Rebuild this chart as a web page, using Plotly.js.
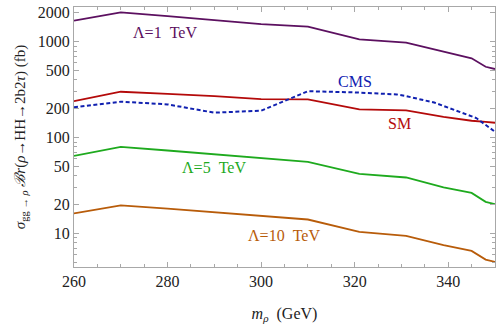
<!DOCTYPE html>
<html>
<head>
<meta charset="utf-8">
<script src="https://cdn.plot.ly/plotly-3.0.1.min.js"></script>
<style>html,body{margin:0;padding:0;background:#fff;}#chart{width:498px;height:327px;}</style>
</head>
<body>
<div id="chart"></div>
<script>
// Data
const massGrid = [260, 270, 280, 290, 300, 310, 321, 331, 339, 345, 348, 350];
const lambda1 = [1656, 2027, 1845, 1690, 1525, 1435, 1059, 977, 787, 671, 548, 519];
const smValues = [240, 301, 286, 271, 252, 251, 197, 192, 165, 150, 146, 143];
const lambda5 = [64.6, 80.2, 73.4, 66.8, 61.1, 55.9, 41.9, 38.4, 30.2, 26.5, 21.4, 20.2];
const lambda10 = [16.2, 19.7, 18.2, 16.7, 15.1, 14.0, 10.4, 9.45, 7.55, 6.58, 5.35, 5.06];
const cmsMass = [260, 270, 280, 290, 300, 310, 320, 329, 331, 337, 346, 350];
const cmsLimit = [207, 237, 222, 182, 191, 305, 296, 282, 271, 232, 160, 115];
const yTickVals = [10, 20, 50, 100, 200, 500, 1000, 2000];
const yTickText = ['10', '20', '50', '100', '200', '500', '1000', '2000'];
const xTickVals = [260, 280, 300, 320, 340];

const serif = 'Liberation Serif, Times New Roman, serif';
const minorY = [];
[1, 10, 100, 1000].forEach(d => { for (let k = 1; k < 10; k++) { const v = k * d; if (v >= 4.5 && v <= 2300) minorY.push(v); } });

function line(x, y, color, dash, w) {
  return {x: x, y: y, type: 'scatter', mode: 'lines', line: {color: color, width: w || 1.8, dash: dash || 'solid'}, hoverinfo: 'skip', showlegend: false};
}

const traces = [
  line(massGrid, lambda1, '#5c1060'),
  line(massGrid, smValues, '#b40a0a'),
  line(cmsMass, cmsLimit, '#1020b0', '4px,2.5px', 2),
  line(massGrid, lambda5, '#1eaa1e'),
  line(massGrid, lambda10, '#b85c0a')
];

const frameColor = '#a8a8a8';
function label(x, y, text, color) {
  return {xref: 'paper', yref: 'paper', x: x, y: y, xanchor: 'center', yanchor: 'middle', text: text, showarrow: false, font: {family: serif, size: 16, color: color}};
}
const layout = {
  width: 498, height: 327,
  margin: {l: 74, r: 3, t: 7, b: 60},
  paper_bgcolor: '#fff', plot_bgcolor: '#fff',
  font: {family: serif, size: 14, color: '#222'},
  xaxis: {
    range: [260, 350], showgrid: false, zeroline: false,
    showline: true, linecolor: frameColor, linewidth: 1, mirror: 'ticks',
    ticks: 'inside', ticklen: 5, tickcolor: frameColor,
    tickvals: xTickVals, ticktext: xTickVals.map(String),
    tickfont: {family: serif, size: 16, color: '#222'},
    minor: {tickmode: 'linear', tick0: 260, dtick: 5, ticks: 'inside', ticklen: 3, tickcolor: frameColor, showgrid: false},
    title: {text: '<i>m</i><sub><i>ρ</i></sub>  (GeV)', font: {family: serif, size: 16, color: '#222'}, standoff: 18}
  },
  yaxis: {
    type: 'log', range: [0.651, 3.362], showgrid: false, zeroline: false,
    showline: true, linecolor: frameColor, linewidth: 1, mirror: 'ticks',
    ticks: 'inside', ticklen: 5, tickcolor: frameColor,
    tickmode: 'array', tickvals: yTickVals, ticktext: yTickText,
    tickfont: {family: serif, size: 16, color: '#222'},
    minor: {tickmode: 'array', tickvals: minorY, ticks: 'inside', ticklen: 3, tickcolor: frameColor, showgrid: false},
    title: {text: '<i>σ</i><sub>gg → <i>ρ</i></sub> <i>ℬr</i>(<i>ρ</i>→HH→2b2<i>τ</i>) (fb)', font: {family: serif, size: 15, color: '#222'}, standoff: 8}
  },
  annotations: [
    label(0.216, 0.900, 'Λ=1  TeV', '#5c1060'),
    label(0.667, 0.715, 'CMS', '#1020b0'),
    label(0.774, 0.550, 'SM', '#b40a0a'),
    label(0.333, 0.381, 'Λ=5  TeV', '#1eaa1e'),
    label(0.499, 0.123, 'Λ=10  TeV', '#b85c0a')
  ]
};

Plotly.newPlot('chart', traces, layout, {staticPlot: true, displayModeBar: false});
</script>
</body>
</html>
